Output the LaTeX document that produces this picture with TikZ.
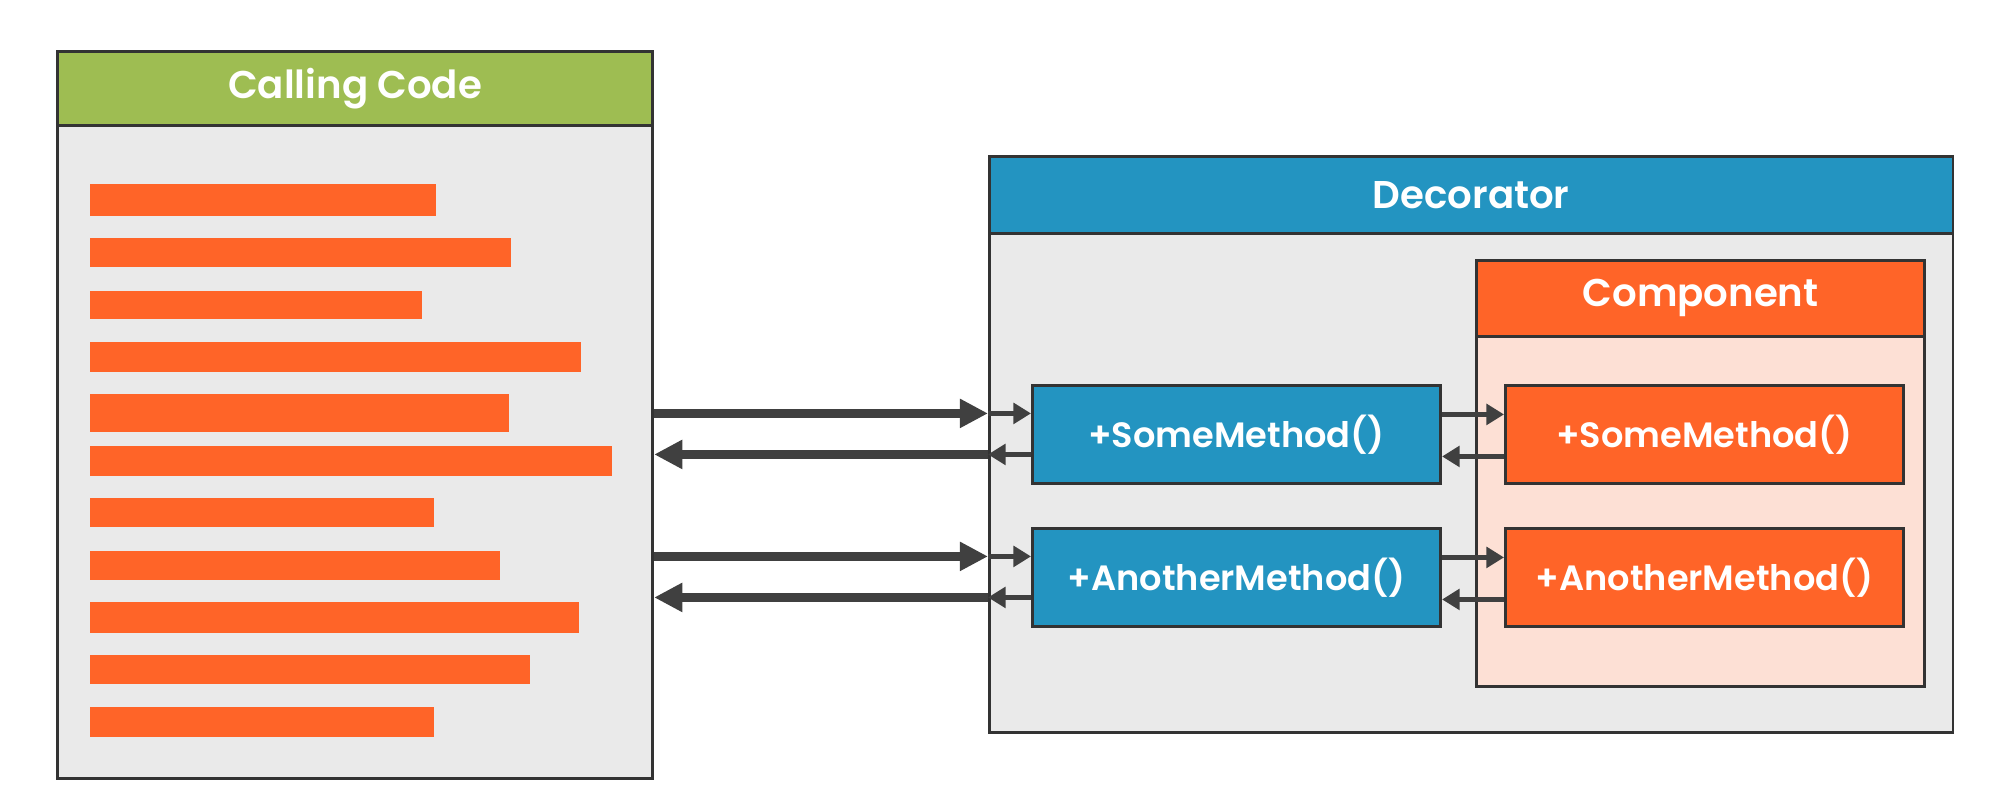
\documentclass[tikz,border=0pt]{standalone}
\usepackage{fontspec}
\setmainfont{Poppins}[BoldFont={Poppins SemiBold}]
\usetikzlibrary{arrows.meta}
\definecolor{headgreen}{HTML}{9EBD52}
\definecolor{headblue}{HTML}{2394C1}
\definecolor{codeorange}{HTML}{FF6428}
\definecolor{bodygrey}{HTML}{EAEAEA}
\definecolor{bodypink}{HTML}{FDE0D5}
\definecolor{boxline}{HTML}{333333}
\definecolor{arrowgrey}{HTML}{404040}

\begin{document}
\begin{tikzpicture}[x=0.01cm, y=-0.01cm,
    box/.style={draw=boxline, line width=0.8pt, inner sep=0pt, anchor=north west},
    head/.style={box, text=white, font=\bfseries\fontsize{11}{13}\selectfont},
    method/.style={box, text=white, font=\bfseries\fontsize{10}{12}\selectfont,
      minimum height=0.98cm},
    bigarrow/.style={draw=arrowgrey, line width=2.7pt, -{Triangle[length=8pt,width=7.8pt]}},
    smallarrow/.style={draw=arrowgrey, line width=1.3pt, -{Triangle[length=5pt,width=5.8pt]}},
    codebar/.style={fill=codeorange}]
  \useasboundingbox (0,0) rectangle (2000,795);

  % calling code
  \node[box, fill=bodygrey, minimum width=5.95cm, minimum height=7.27cm] (calling) at (56,50) {};
  \node[head, fill=headgreen, minimum width=5.95cm, minimum height=0.74cm] (callingHead)
    at (calling.north west) {Calling Code};
  \foreach \y/\r/\h in {184/436/32, 238/511/29, 291/422/28, 342/581/30, 394/509/38,
      446/612/30, 498/434/29, 551/500/29, 602/579/31, 655/530/29, 707/434/30}
    \fill[codebar] (90,\y) rectangle (\r,\y+\h);

  % decorator and component
  \node[box, fill=bodygrey, minimum width=9.63cm, minimum height=5.76cm] (decorator) at (988,155) {};
  \node[head, fill=headblue, minimum width=9.63cm, minimum height=0.77cm] (decoratorHead)
    at (decorator.north west) {Decorator};
  \node[box, fill=bodypink, minimum width=4.48cm, minimum height=4.26cm] (component) at (1475,259) {};
  \node[head, fill=codeorange, minimum width=4.48cm, minimum height=0.76cm] (componentHead)
    at (component.north west) {Component};

  \node[method, fill=headblue, minimum width=4.08cm] (decSome) at (1031,384) {+SomeMethod()};
  \node[method, fill=headblue, minimum width=4.08cm] (decAnother) at (1031,527) {+AnotherMethod()};
  \node[method, fill=codeorange, minimum width=3.98cm] (compSome) at (1504,384) {+SomeMethod()};
  \node[method, fill=codeorange, minimum width=3.98cm] (compAnother) at (1504,527) {+AnotherMethod()};

  % calls and returns
  \foreach \m in {Some,Another} {
    \coordinate (\m In) at ([yshift=0.21cm]dec\m.west);
    \coordinate (\m Out) at ([yshift=-0.20cm]dec\m.west);
    \draw[bigarrow] (calling.east |- \m In) -- (decorator.west |- \m In);
    \draw[smallarrow] (decorator.west |- \m In) -- (\m In);
    \draw[bigarrow] (decorator.west |- \m Out) -- (calling.east |- \m Out);
    \draw[smallarrow] (\m Out) -- (decorator.west |- \m Out);
    \draw[smallarrow] ([yshift=0.20cm]dec\m.east) -- ([yshift=0.20cm]comp\m.west);
    \draw[smallarrow] ([yshift=-0.22cm]comp\m.west) -- ([yshift=-0.22cm]dec\m.east);
  }
\end{tikzpicture}
\end{document}
